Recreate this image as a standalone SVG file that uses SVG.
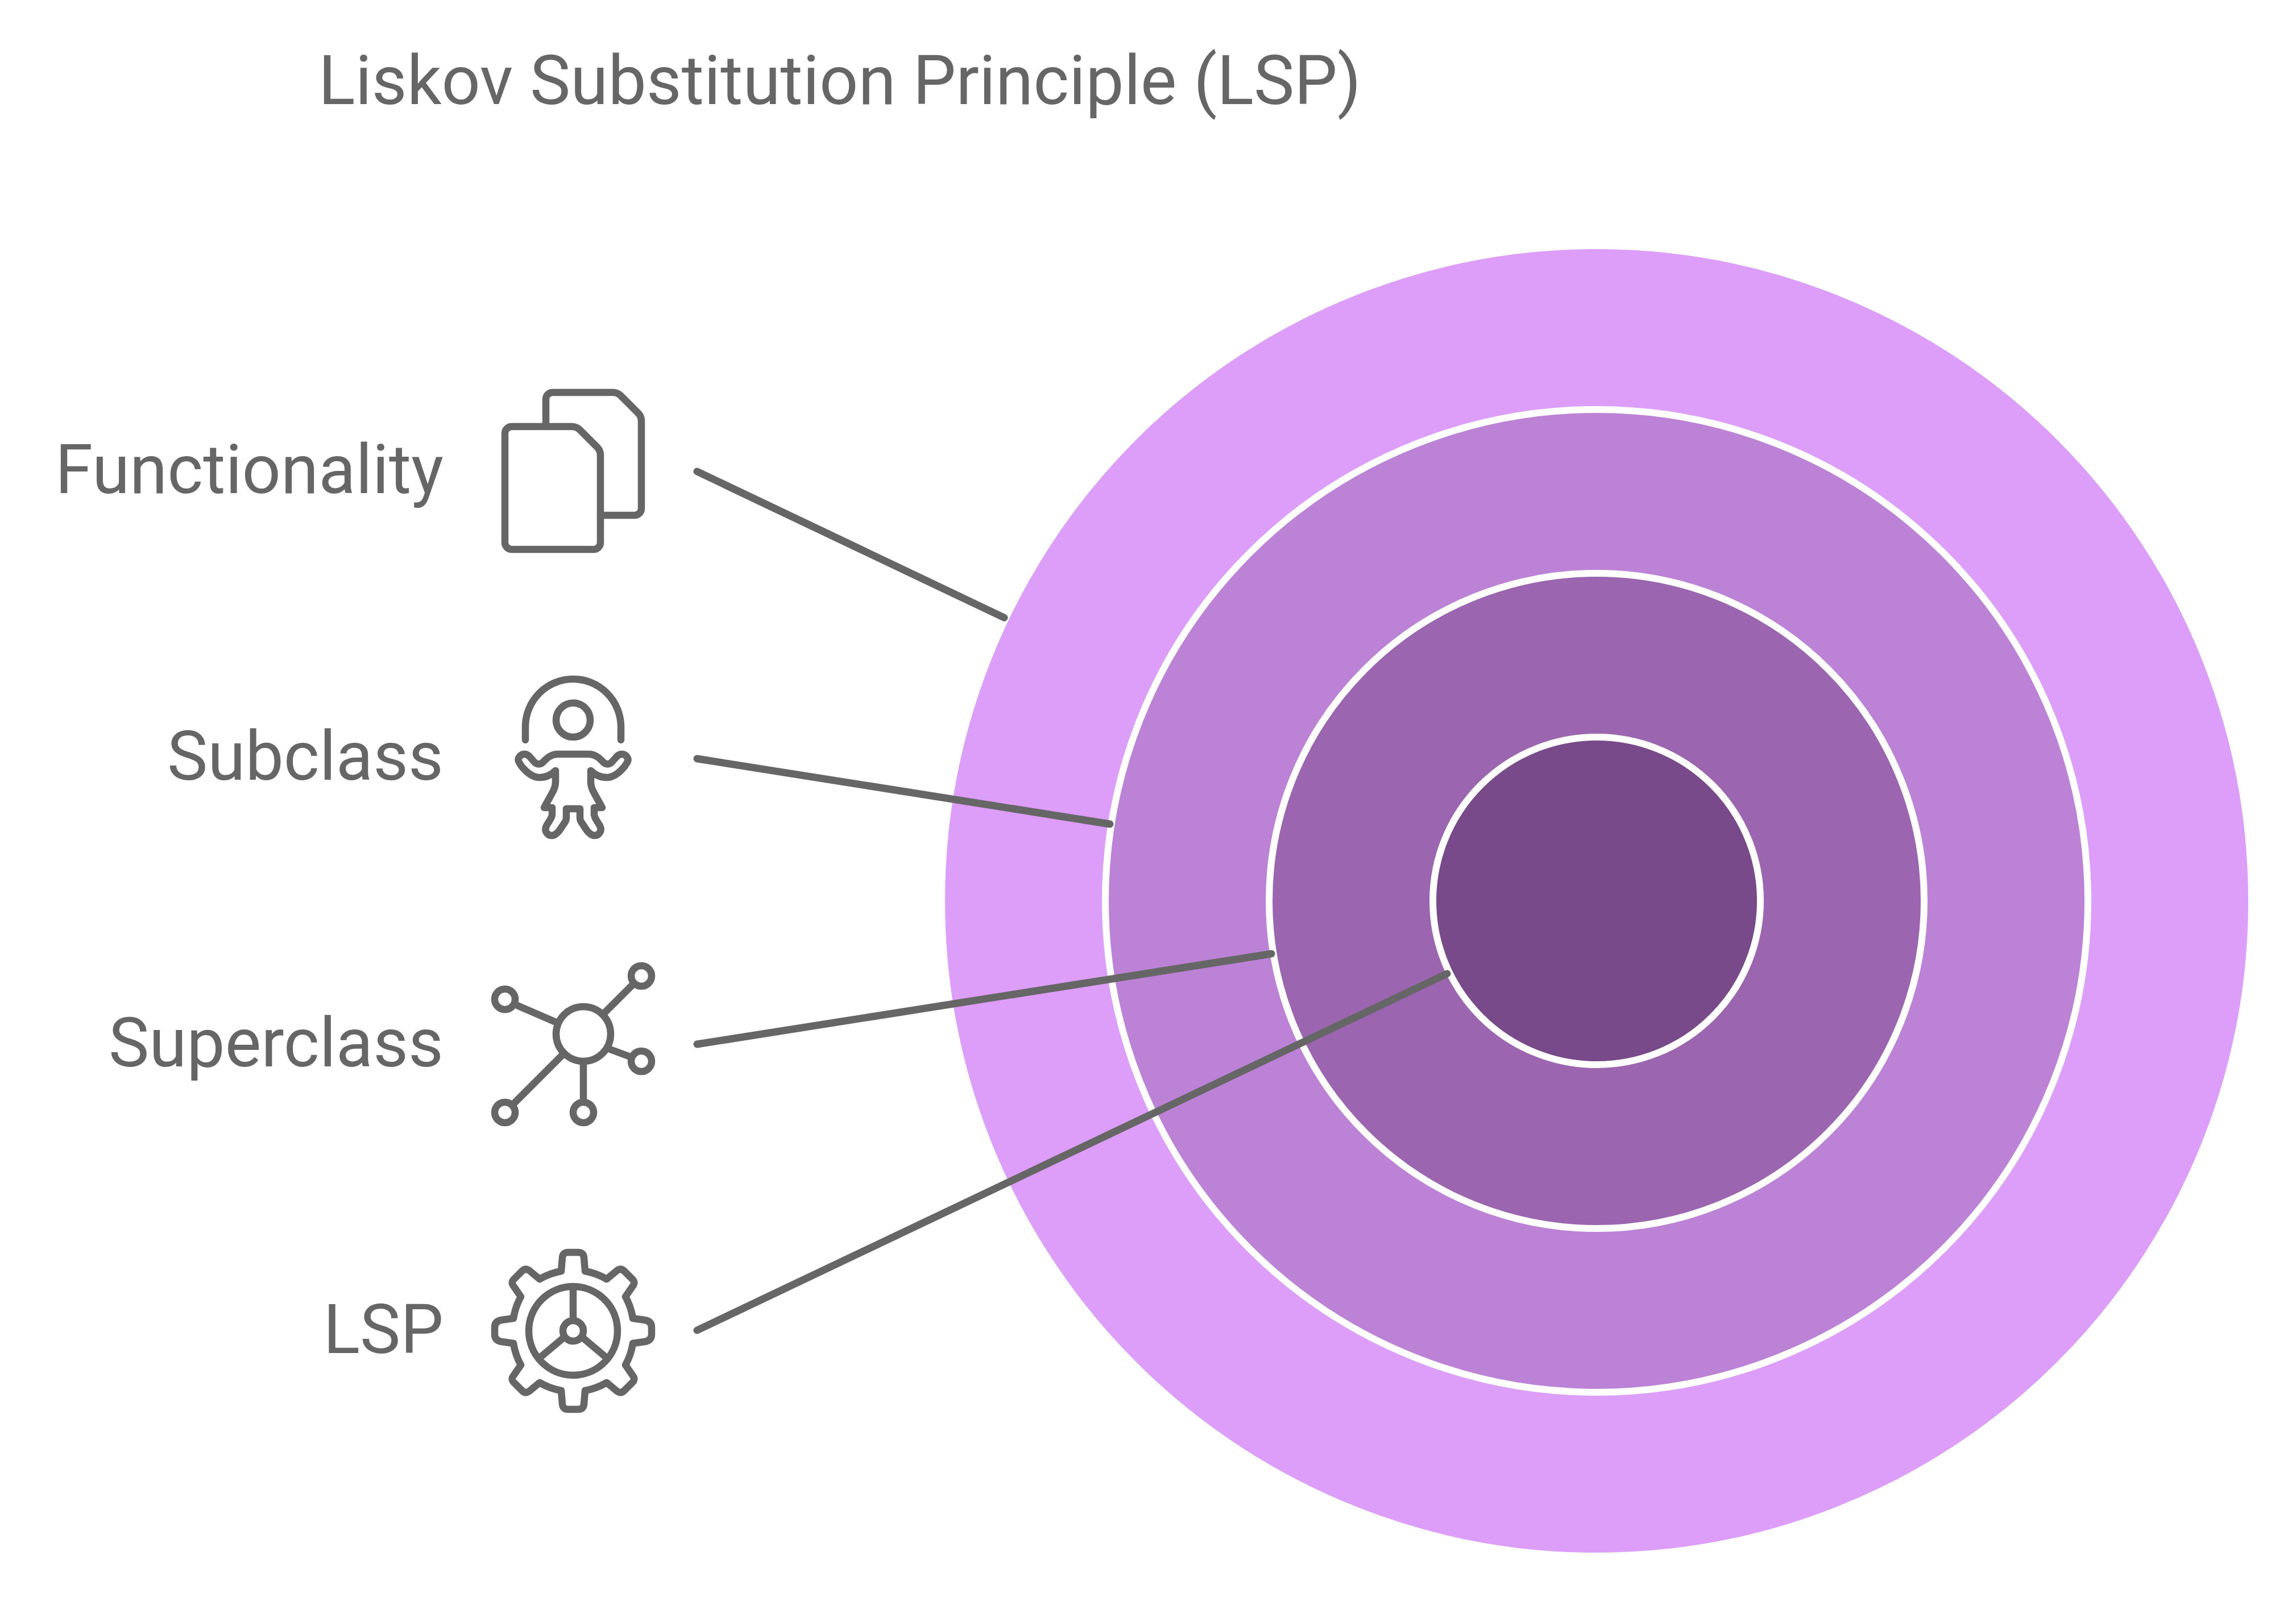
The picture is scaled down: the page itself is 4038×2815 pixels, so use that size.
<svg xmlns="http://www.w3.org/2000/svg" width="4038" height="2815" viewBox="0 0 4038 2815">
  <style>
    .t { font-family: Roboto, "Liberation Sans", sans-serif; font-size: 120px; fill: #666666; }
    .e { text-anchor: end; }
    .i { fill: none; stroke: #666666; stroke-width: 12.5; stroke-linecap: round; stroke-linejoin: round; }
    .r { stroke: #ffffff; stroke-width: 12; }
    .c { fill: none; stroke: #666666; stroke-width: 13; stroke-linecap: round; }
  </style>
  <rect width="4038" height="2815" fill="#ffffff"/>
  <text id="title" class="t" x="560" y="183">Liskov Substitution Principle (LSP)</text>
  <g id="rings">
    <circle id="ring-functionality" class="r" cx="2808" cy="1584" r="1152" fill="#dc9ef9"/>
    <circle id="ring-subclass" class="r" cx="2808" cy="1584" r="864" fill="#bc82d6"/>
    <circle id="ring-superclass" class="r" cx="2808" cy="1584" r="576" fill="#9b66af"/>
    <circle id="ring-lsp" class="r" cx="2808" cy="1584" r="288" fill="#784a89"/>
  </g>
  <g id="connectors">
    <line class="c" x1="1226" y1="829" x2="1766" y2="1086"/>
    <line class="c" x1="1226" y1="1334" x2="1952" y2="1449"/>
    <line class="c" x1="1226" y1="1836" x2="2236" y2="1677"/>
    <line class="c" x1="1226" y1="2339" x2="2545" y2="1712"/>
  </g>
  <g id="node-functionality">
    <text class="t e" x="780" y="867">Functionality</text>
    <path class="i" d="M960 750V702a12 12 0 0 1 12-12H1078Q1086 690 1092 696L1122 726Q1128 732 1128 740V894a12 12 0 0 1-12 12H1056"/>
    <path class="i" d="M888 762a12 12 0 0 1 12-12H1006Q1014 750 1020 756L1050 786Q1056 792 1056 800V954a12 12 0 0 1-12 12H900a12 12 0 0 1-12-12Z"/>
  </g>
  <g id="node-subclass">
    <text class="t e" x="780" y="1371">Subclass</text>
    <path class="i" d="M924 1301V1278a84 84 0 0 1 168 0V1301"/>
    <circle class="i" cx="1008" cy="1266" r="30"/>
    <path class="i" d="M1008 1326H1035C1047 1326 1054 1333 1060 1339C1065 1345 1072 1345 1077 1339L1084 1331C1090 1323 1100 1325 1104 1333C1106 1338 1102 1342 1099 1347C1090 1358 1080 1367 1067 1367C1057 1367 1047 1363 1039 1355V1375C1039 1387 1044 1392 1059 1420H1045V1432C1045 1438 1050 1443 1055 1452C1060 1462 1052 1470 1044 1469C1039 1468 1036 1465 1032 1460L1022 1445C1020 1442 1020 1440 1020 1437V1422H996V1437C996 1440 996 1442 994 1445L984 1460C980 1465 977 1468 972 1469C964 1470 956 1462 961 1452C966 1443 971 1438 971 1432V1420H957C972 1392 977 1387 977 1375V1355C969 1363 959 1367 949 1367C936 1367 926 1358 917 1347C914 1342 910 1338 912 1333C916 1325 926 1323 932 1331L939 1339C944 1345 951 1345 956 1339C962 1333 969 1326 981 1326Z"/>
  </g>
  <g id="node-superclass">
    <text class="t e" x="780" y="1875">Superclass</text>
    <circle class="i" cx="1026" cy="1818" r="48"/>
    <circle class="i" cx="888" cy="1757" r="18"/>
    <circle class="i" cx="1128" cy="1716" r="18"/>
    <circle class="i" cx="1128" cy="1866" r="18"/>
    <circle class="i" cx="888" cy="1956" r="18"/>
    <circle class="i" cx="1026" cy="1956" r="18"/>
    <path class="i" d="M910 1768L977 1797M1060 1784L1115 1729M1073 1845L1108 1858M992 1852L901 1943M1026 1870V1933"/>
  </g>
  <g id="node-lsp">
    <text class="t e" x="780" y="2379">LSP</text>
    <path class="i" d="M1008 2202H1017Q1026 2202 1027 2211L1029 2235A116 116 0 0 1 1067 2249L1085 2234Q1092 2229 1098 2235L1112 2249Q1118 2255 1113 2261L1100 2280A116 116 0 0 1 1113 2318L1134 2321Q1146 2323 1146 2334V2346Q1146 2357 1134 2359L1113 2362A116 116 0 0 1 1100 2400L1113 2419Q1118 2425 1112 2431L1098 2445Q1092 2451 1085 2446L1067 2431A116 116 0 0 1 1029 2445L1027 2469Q1026 2478 1017 2478H999Q990 2478 989 2469L987 2445A116 116 0 0 1 949 2431L931 2446Q924 2451 918 2445L904 2431Q898 2425 903 2419L916 2400A116 116 0 0 1 903 2362L882 2359Q870 2357 870 2346V2334Q870 2323 882 2321L903 2318A116 116 0 0 1 916 2280L903 2261Q898 2255 904 2249L918 2235Q924 2229 931 2234L949 2249A116 116 0 0 1 987 2235L989 2211Q990 2202 999 2202Z"/>
    <circle class="i" cx="1008" cy="2340" r="78"/>
    <circle class="i" cx="1008" cy="2340" r="18"/>
    <path class="i" d="M1008 2317V2262M990 2353L952 2385M1026 2353L1064 2385"/>
  </g>
</svg>
